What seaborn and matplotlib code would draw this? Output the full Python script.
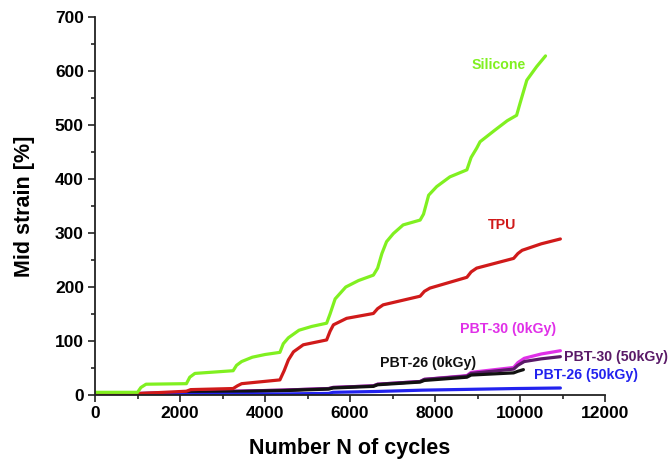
import matplotlib
matplotlib.use("Agg")
import matplotlib.pyplot as plt
import seaborn as sns
import pandas as pd
from matplotlib.ticker import MultipleLocator

# ---------------- data ----------------
silicone_x = [0, 1000, 1080, 1200, 2150, 2230, 2350, 3250, 3330, 3450, 3700, 4000, 4350, 4430, 4550,
              4800, 5100, 5450, 5530, 5650, 5900, 6200, 6550, 6650, 6750, 6860, 7020, 7250, 7650, 7730,
              7850, 8040, 8350, 8750, 8850, 8980, 9060, 9400, 9700, 9920, 10000, 10160, 10390, 10600]
silicone_y = [5, 5, 14, 20, 21, 33, 40, 45, 55, 62, 70, 75, 79, 95, 106,
              120, 127, 133, 150, 178, 200, 212, 222, 235, 262, 284, 299, 315, 324, 335,
              370, 386, 404, 417, 440, 457, 469, 490, 508, 518, 540, 583, 608, 628]

tpu_x = [0, 1100, 2150, 2250, 3250, 3350, 3450, 4350, 4450, 4550, 4670, 4900, 5450, 5530, 5610,
         5920, 6550, 6650, 6780, 7650, 7750, 7880, 8750, 8850, 8980, 9850, 9950, 10050, 10500, 10950]
tpu_y = [1, 3, 7, 10, 12, 17, 21, 28, 45, 65, 80, 93, 102, 118, 130,
         142, 151, 160, 167, 183, 192, 198, 218, 228, 235, 253, 262, 268, 280, 289]

pbt30_x = [0, 1100, 2200, 3300, 4400, 5500, 5600, 6550, 6650, 7650, 7750, 8750, 8850, 9850, 9950,
           10100, 10500, 10950]
pbt30_0_y = [0, 3, 5, 7, 9, 12, 14, 17, 20, 25, 29, 36, 42, 51, 60, 68, 76, 82]
pbt30_50_y = [0, 3, 5, 7, 9, 12, 14, 17, 20, 25, 29, 35, 40, 48, 55, 62, 67, 71]

pbt26_0_x = [0, 1100, 2200, 3300, 4400, 5500, 5600, 6550, 6650, 7650, 7750, 8750, 8850, 9850, 9950, 10080]
pbt26_0_y = [0, 2, 4, 6, 8, 11, 13, 16, 19, 24, 27, 33, 37, 41, 44, 47]

pbt26_50_x = [0, 2200, 3300, 4400, 5500, 5600, 6600, 7700, 8800, 9900, 10950]
pbt26_50_y = [0, 1, 1.5, 2, 3, 5, 6.5, 9, 10.5, 12, 13]

x_ticks = [0, 2000, 4000, 6000, 8000, 10000, 12000]
y_ticks = [0, 100, 200, 300, 400, 500, 600, 700]

# ---------------- style ----------------
sns.set_theme(style="ticks")
plt.rcParams["font.family"] = ["Liberation Sans", "DejaVu Sans"]
plt.rcParams["font.weight"] = "bold"
plt.rcParams["text.color"] = "black"
plt.rcParams["axes.labelcolor"] = "black"
plt.rcParams["xtick.color"] = "black"
plt.rcParams["ytick.color"] = "black"

fig = plt.figure(figsize=(6.72, 4.59), dpi=100)
ax = fig.add_axes([0.1414, 0.1394, 0.7589, 0.8235])

series = [
    ("PBT-30 (0kGy)", pbt30_x, pbt30_0_y, "#e030e8"),
    ("PBT-30 (50kGy)", pbt30_x, pbt30_50_y, "#5a1a68"),
    ("PBT-26 (0kGy)", pbt26_0_x, pbt26_0_y, "#111111"),
    ("PBT-26 (50kGy)", pbt26_50_x, pbt26_50_y, "#2222ee"),
    ("TPU", tpu_x, tpu_y, "#d01a1a"),
    ("Silicone", silicone_x, silicone_y, "#80f020"),
]
for name, xs, ys, col in series:
    df = pd.DataFrame({"N": xs, "strain": ys})
    sns.lineplot(data=df, x="N", y="strain", ax=ax, color=col, lw=2.3, sort=False,
                 estimator=None, legend=False)

labels = [
    ("Silicone", 9506, 612, "#80f020"),
    ("TPU", 9576, 315, "#d01a1a"),
    ("PBT-30 (0kGy)", 9729, 123, "#e030e8"),
    ("PBT-30 (50kGy)", 12250, 71, "#5a1a68"),
    ("PBT-26 (0kGy)", 7835, 59, "#111111"),
    ("PBT-26 (50kGy)", 11549, 37, "#2222ee"),
]
for t, x, y, c in labels:
    ax.text(x, y, t, color=c, fontsize=10.2, fontweight="bold", ha="center", va="center",
            clip_on=False)

ax.set_xlim(0, 12000)
ax.set_ylim(0, 700)
ax.set_xticks(x_ticks)
ax.set_yticks(y_ticks)
ax.xaxis.set_minor_locator(MultipleLocator(1000))
ax.yaxis.set_minor_locator(MultipleLocator(50))
ax.tick_params(axis="both", which="major", direction="out", length=5, width=1.2,
               labelsize=12.5, color="#222222", labelcolor="black", pad=3)
ax.tick_params(axis="both", which="minor", direction="out", length=3, width=1.2, color="#222222")
for lab in ax.get_xticklabels() + ax.get_yticklabels():
    lab.set_fontweight("bold")

ax.set_xlabel("Number N of cycles", fontsize=15.5, fontweight="bold", labelpad=12, color="black")
ax.set_ylabel("Mid strain [%]", fontsize=15.5, fontweight="bold", labelpad=14, color="black")

for s in ["top", "right"]:
    ax.spines[s].set_visible(False)
for s in ["left", "bottom"]:
    ax.spines[s].set_linewidth(1.3)
    ax.spines[s].set_color("#222222")

fig.savefig("out.png", dpi=100)
